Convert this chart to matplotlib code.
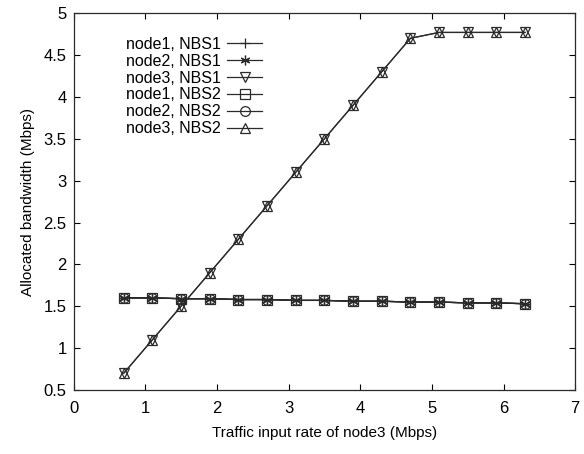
import numpy as np
import matplotlib.pyplot as plt

plt.rcParams['font.family'] = ['Liberation Sans', 'DejaVu Sans']

# traffic input rate of node3 (Mbps)
rate = [0.7, 1.1, 1.5, 1.9, 2.3, 2.7, 3.1, 3.5, 3.9, 4.3, 4.7, 5.1, 5.5, 5.9, 6.3]

# allocated bandwidth (Mbps)
node1_nbs1 = [1.60, 1.60, 1.59, 1.59, 1.58, 1.58, 1.57, 1.57, 1.56, 1.56, 1.55, 1.55, 1.54, 1.54, 1.53]
node2_nbs1 = [1.60, 1.60, 1.59, 1.59, 1.58, 1.58, 1.57, 1.57, 1.56, 1.56, 1.55, 1.55, 1.54, 1.54, 1.53]
node3_nbs1 = [0.70, 1.10, 1.50, 1.90, 2.30, 2.70, 3.10, 3.50, 3.90, 4.30, 4.70, 4.77, 4.77, 4.77, 4.77]
node1_nbs2 = [1.60, 1.60, 1.59, 1.59, 1.58, 1.58, 1.57, 1.57, 1.56, 1.56, 1.55, 1.55, 1.54, 1.54, 1.53]
node2_nbs2 = [1.60, 1.60, 1.59, 1.59, 1.58, 1.58, 1.57, 1.57, 1.56, 1.56, 1.55, 1.55, 1.54, 1.54, 1.53]
node3_nbs2 = [0.70, 1.10, 1.50, 1.90, 2.30, 2.70, 3.10, 3.50, 3.90, 4.30, 4.70, 4.77, 4.77, 4.77, 4.77]

labels = ['node1, NBS1', 'node2, NBS1', 'node3, NBS1',
          'node1, NBS2', 'node2, NBS2', 'node3, NBS2']
series = [node1_nbs1, node2_nbs1, node3_nbs1, node1_nbs2, node2_nbs2, node3_nbs2]
markers = ['+', (6, 2, 0), 'v', 's', 'o', '^']

fig = plt.figure(figsize=(5.84, 4.54), dpi=100)
ax = fig.add_axes([0.126, 0.141, 0.859, 0.830])

col = '#2a2a2a'
for vals, lab, m in zip(series, labels, markers):
    ax.plot(rate, vals, color=col, lw=0.9, marker=m, markersize=7,
            markerfacecolor='none', markeredgecolor=col, markeredgewidth=0.9,
            label=lab)

ax.set_xlim(0, 7)
ax.set_ylim(0.5, 5)
ax.set_xticks(np.arange(0, 8, 1))
ax.set_yticks(np.arange(0.5, 5.01, 0.5))
ax.set_yticklabels(['0.5', '1', '1.5', '2', '2.5', '3', '3.5', '4', '4.5', '5'])
ax.tick_params(direction='in', top=True, right=True, labelsize=12, length=4, width=0.8)
ax.tick_params(axis='x', pad=8)
ax.tick_params(axis='y', pad=5)
for s in ax.spines.values():
    s.set_linewidth(0.9)
    s.set_color(col)

ax.set_xlabel('Traffic input rate of node3 (Mbps)', fontsize=11, labelpad=7)
ax.set_ylabel('Allocated bandwidth (Mbps)', fontsize=11, labelpad=6)

ax.legend(loc='upper left', bbox_to_anchor=(0.085, 0.963), frameon=False, markerfirst=False,
          fontsize=11.5, handlelength=2.2, labelspacing=0.12, handletextpad=0.4,
          borderaxespad=0.2)

fig.savefig('out.png', dpi=100)
